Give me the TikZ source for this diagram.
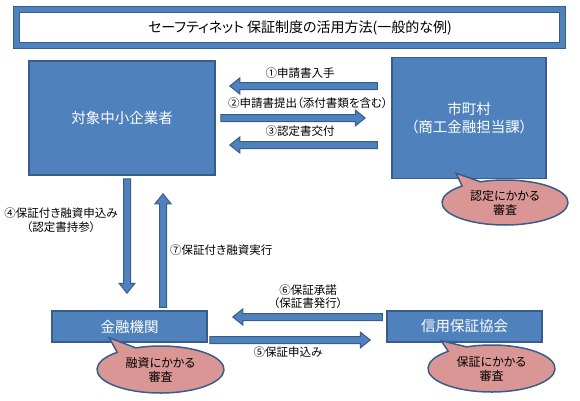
\documentclass[tikz,border=0pt]{standalone}
\usepackage{fontspec}
\setmainfont{Noto Sans CJK JP}[RawFeature=+palt]
\usetikzlibrary{calc}

\definecolor{boxfill}{RGB}{79,129,189}
\definecolor{boxline}{RGB}{56,93,138}
\definecolor{exampink}{RGB}{217,150,148}

\tikzset{
  titlebox/.style={draw=boxline, line width=1.2pt, double=boxfill, double distance=4.5pt, fill=white,
    minimum width=546pt, minimum height=36pt, inner sep=0pt},
  party/.style={draw=boxline, fill=boxfill, line width=1.5pt, text=white, align=center,
    inner sep=0pt, font=\fontsize{14.5}{18}\selectfont},
  arrowbody/.style={draw=boxline, fill=boxfill, line width=1pt},
  callout/.style={draw=boxline, fill=exampink, line width=1.5pt},
  examtext/.style={align=center, inner sep=0pt, font=\fontsize{12}{14}\selectfont},
  steplabel/.style={align=center, inner sep=0pt, font=\fontsize{11.5}{13.5}\selectfont}
}

% block arrow from #1 to #2
\newcommand{\blockarrow}[2]{%
  \filldraw[arrowbody] let \p1=#1, \p2=#2, \n1={atan2(\y2-\y1,\x2-\x1)}, \n2={veclen(\x2-\x1,\y2-\y1)} in
    [shift={(\p1)}, rotate=\n1] (0,-3.5) -- ({\n2-10},-3.5) -- ({\n2-10},-8) -- (\n2,0)
    -- ({\n2-10},8) -- ({\n2-10},3.5) -- (0,3.5) -- cycle;}

\begin{document}
\begin{tikzpicture}[x=1pt,y=1pt]
\useasboundingbox (0,0) rectangle (580,400);

\node[titlebox] (titleframe) at (289.5,372.5) {};
\node[font=\fontsize{14}{16}\selectfont, inner sep=0pt] (title) at (300,372.5) {セーフティネット 保証制度の活用方法(一般的な例)};

% boxes
\node[party, minimum width=186pt, minimum height=114pt] (firm) at (122,282) {対象中小企業者};
\node[party, minimum width=154pt, minimum height=121pt] (city) at (469,282) {市町村\\（商工金融担当課）};
\node[party, minimum width=155pt, minimum height=31pt] (bank) at (129.5,73.5) {金融機関};
\node[party, minimum width=155pt, minimum height=31pt] (cgc) at (464.5,73.5) {信用保証協会};

% arrows
\blockarrow{([shift={(-14,32)}]city.west)}{([shift={(14,32)}]firm.east)}
\blockarrow{([xshift=5pt]firm.east)}{([xshift=-26pt]city.west)}
\blockarrow{([shift={(-14,-27)}]city.west)}{([shift={(14,-27)}]firm.east)}
\blockarrow{([shift={(5,-3)}]firm.south)}{([shift={(-2.5,17)}]bank.north)}
\blockarrow{([shift={(33.5,3)}]bank.north)}{([shift={(41,-18)}]firm.south)}
\blockarrow{([shift={(-4,9.5)}]cgc.west)}{([shift={(25,9.5)}]bank.east)}
\blockarrow{([shift={(2,-13.5)}]bank.east)}{([shift={(-16,-13.5)}]cgc.west)}

% labels
\node[steplabel] (s1) at (300,327) {①申請書入手};
\node[steplabel] (s2) at (308,297) {②申請書提出（添付書類を含む）};
\node[steplabel] (s3) at (300,269) {③認定書交付};
\node[steplabel] (s4) at (61,180) {④保証付き融資申込み\\（認定書持参）};
\node[steplabel] (s5) at (288,48) {⑤保証申込み};
\node[steplabel] (s6) at (308,103.5) {⑥保証承諾\\（保証書発行）};
\node[steplabel, anchor=west] (s7) at (170,150) {⑦保証付き融資実行};

% callouts
\coordinate (c1) at (505,197.5);
\filldraw[callout] ([shift={(113:63 and 22.5)}]c1) -- ([shift={(65,6)}]city.south west)
  -- ([shift={(133:63 and 22.5)}]c1) arc[start angle=133, end angle=473, x radius=63, y radius=22.5] -- cycle;
\node[examtext] (exam1) at (c1) {認定にかかる\\審査};

\coordinate (c2) at (160.5,30.5);
\filldraw[callout] ([shift={(113:63.5 and 23.5)}]c2) -- ([shift={(58,5)}]bank.south west)
  -- ([shift={(133:63.5 and 23.5)}]c2) arc[start angle=133, end angle=473, x radius=63.5, y radius=23.5] -- cycle;
\node[examtext] (exam2) at (c2) {融資にかかる\\審査};

\coordinate (c3) at (491.5,31.5);
\filldraw[callout] ([shift={(113:63.5 and 23.5)}]c3) -- ([shift={(55,2)}]cgc.south west)
  -- ([shift={(133:63.5 and 23.5)}]c3) arc[start angle=133, end angle=473, x radius=63.5, y radius=23.5] -- cycle;
\node[examtext] (exam3) at (c3) {保証にかかる\\審査};
\end{tikzpicture}
\end{document}
